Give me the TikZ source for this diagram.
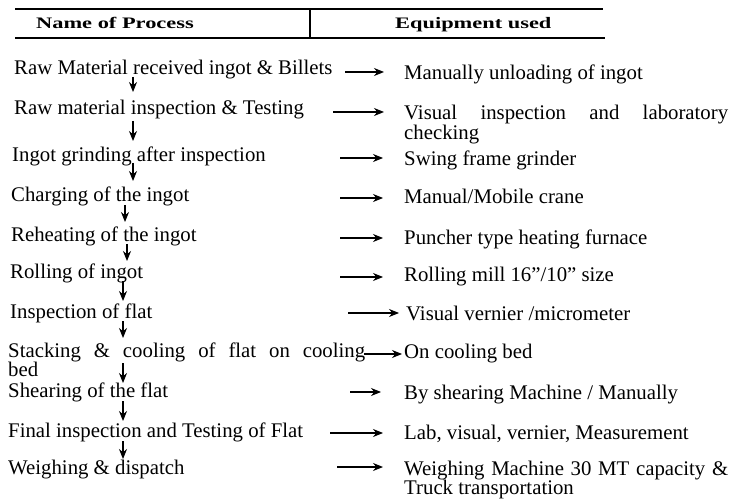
\documentclass[tikz,border=0pt]{standalone}
\usepackage{fontspec}
\setmainfont{Liberation Serif}
\usetikzlibrary{arrows.meta,calc}
\newcommand\bodyfnt{\fontsize{20.8}{18}\selectfont}
\newcommand\hdrtext[1]{\scalebox{1.4}[1]{\fontsize{16}{18}\selectfont\bfseries #1}}
\begin{document}
\begin{tikzpicture}[x=1pt,y=-1pt,
  proc/.style={anchor=base west,inner sep=0pt,font=\bodyfnt},
  equip/.style={anchor=base west,inner sep=0pt,font=\bodyfnt},
  hdr/.style={anchor=base west,inner sep=0pt},
  rulel/.style={line width=1.4pt},
  harr/.style={-{Stealth[length=10pt,width=8pt]},line width=1.1pt},
  darr/.style={-{Stealth[length=10pt,width=8pt]},line width=1.1pt}]
\useasboundingbox (0,0) rectangle (748,500);

% header
\coordinate (hTL) at (15,9);
\coordinate (hTR) at (603,9);
\coordinate (hBL) at (15,38);
\coordinate (hBR) at (605,38);
\coordinate (dT) at (310,9);
\coordinate (dB) at (310,38);
\draw[rulel] (hTL) -- (hTR);
\draw[rulel] (hBL) -- (hBR);
\draw[rulel] (dT) -- (dB);
\node[hdr] (h1) at (36,29) {\hdrtext{Name of Process}};
\node[hdr] (h2) at (395,29) {\hdrtext{Equipment used}};

% process column
\node[proc] (p1) at (14,75) {Raw Material received ingot \& Billets};
\node[proc] (p2) at (14,115) {Raw material inspection \& Testing};
\node[proc] (p3) at (12,162) {Ingot grinding after inspection};
\node[proc] (p4) at (11,202) {Charging of the ingot};
\node[proc] (p5) at (11,242) {Reheating of the ingot};
\node[proc] (p6) at (10,279) {Rolling of ingot};
\node[proc] (p7) at (10,318) {Inspection of flat};
\node[proc] (p8) at (8,357) {\parbox[t]{357pt}{\bodyfnt\hyphenpenalty=10000\baselineskip=17pt Stacking \& cooling of flat on cooling\linebreak bed}};
\node[proc] (p9) at (8,397) {Shearing of the flat};
\node[proc] (p10) at (8,437) {Final inspection and Testing of Flat};
\node[proc] (p11) at (8,474) {Weighing \& dispatch};

% equipment column
\node[equip] (e1) at (404,80) {Manually unloading of ingot};
\node[equip] (e2) at (404,120) {\parbox[t]{324pt}{\bodyfnt\hyphenpenalty=10000\baselineskip=16pt Visual inspection and laboratory checking}};
\node[equip] (e3) at (404,166) {Swing frame grinder};
\node[equip] (e4) at (404,204) {Manual/Mobile crane};
\node[equip] (e5) at (404,244) {Puncher type heating furnace};
\node[equip] (e6) at (404,282) {Rolling mill 16"/10" size};
\node[equip] (e7) at (406,320) {Visual vernier /micrometer};
\node[equip] (e8) at (404,358) {On cooling bed};
\node[equip] (e9) at (404,399) {By shearing Machine / Manually};
\node[equip] (e10) at (404,439) {Lab, visual, vernier, Measurement};
\node[equip] (e11) at (404,475) {\parbox[t]{324pt}{\bodyfnt\hyphenpenalty=10000\baselineskip=17pt Weighing Machine 30 MT capacity \& Truck transportation}};

% vertical flow arrows
\draw[darr] ($(p1.base west)+(119,2)$) -- ($(p2.base west)+(119,-23)$);
\draw[darr] ($(p2.base west)+(119,6)$) -- ($(p3.base west)+(121,-21)$);
\draw[darr] ($(p3.base west)+(121,1)$) -- ($(p4.base west)+(122,-21)$);
\draw[darr] ($(p4.base west)+(114,3)$) -- ($(p5.base west)+(114,-20)$);
\draw[darr] ($(p5.base west)+(116,2)$) -- ($(p6.base west)+(117,-18)$);
\draw[darr] ($(p6.base west)+(113,2)$) -- ($(p7.base west)+(113,-17)$);
\draw[darr] ($(p7.base west)+(113,3)$) -- ($(p8.base west)+(115,-19)$);
\draw[darr] ($(p8.base west)+(115,6)$) -- ($(p9.base west)+(115,-14)$);
\draw[darr] ($(p9.base west)+(115,4)$) -- ($(p10.base west)+(115,-16)$);
\draw[darr] ($(p10.base west)+(115,4)$) -- ($(p11.base west)+(115,-15)$);

% horizontal arrows
\coordinate (s1) at (345,72);
\coordinate (s2) at (333,112);
\coordinate (s3) at (340,158);
\coordinate (s4) at (340,198);
\coordinate (s5) at (340,238);
\coordinate (s6) at (340,277);
\coordinate (s7) at (348,313);
\coordinate (s8) at (364,354);
\coordinate (s9) at (350,392);
\coordinate (s10) at (330,433);
\coordinate (s11) at (337,467);
\draw[harr,shorten >=20pt] (s1) -- (s1 -| e1.west);
\draw[harr,shorten >=20pt] (s2) -- (s2 -| e2.west);
\draw[harr,shorten >=21pt] (s3) -- (s3 -| e3.west);
\draw[harr,shorten >=21pt] (s4) -- (s4 -| e4.west);
\draw[harr,shorten >=21pt] (s5) -- (s5 -| e5.west);
\draw[harr,shorten >=21pt] (s6) -- (s6 -| e6.west);
\draw[harr,shorten >=7pt] (s7) -- (s7 -| e7.west);
\draw[harr,shorten >=2pt] (s8) -- (s8 -| e8.west);
\draw[harr,shorten >=23pt] (s9) -- (s9 -| e9.west);
\draw[harr,shorten >=21pt] (s10) -- (s10 -| e10.west);
\draw[harr,shorten >=21pt] (s11) -- (s11 -| e11.west);
\end{tikzpicture}
\end{document}
